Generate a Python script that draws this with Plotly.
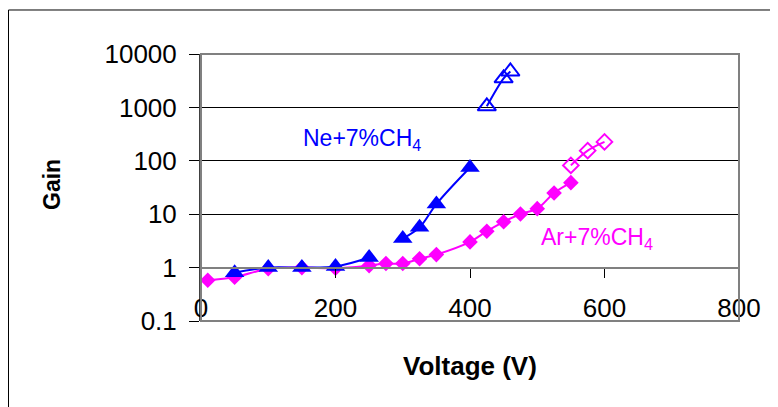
import plotly.graph_objects as go

# ---- data ----
ne_v = [50, 100, 150, 200, 250, 275, 300, 325, 350, 400]
ne_gain = [0.8, 1.0, 1.0, 1.05, 1.55, None, 3.5, 5.7, 15.5, 75]
ne_open_v = [425, 450, 460]
ne_open_gain = [1050, 3500, 4700]

ar_v = [10, 50, 100, 150, 200, 250, 275, 300, 325, 350, 400, 425, 450, 475, 500, 525, 550]
ar_gain = [0.58, 0.66, 0.95, 1.0, 0.97, 1.09, 1.19, 1.19, 1.46, 1.75, 3.03, 4.8, 7.2, 10.1, 12.7, 25, 39]
ar_open_v = [550, 575, 600]
ar_open_gain = [82, 155, 226]

x_ticks = [0, 200, 400, 600, 800]
y_ticks = [0.1, 1, 10, 100, 1000, 10000]
y_tick_labels = ["0.1", "1", "10", "100", "1000", "10000"]

BLUE = "#0000FF"
MAGENTA = "#FF00FF"
FONT = "Liberation Sans, Arial, sans-serif"

fig = go.Figure()

fig.add_trace(go.Scatter(x=ar_v, y=ar_gain, mode="lines+markers",
                         line=dict(color=MAGENTA, width=2, shape="spline"),
                         marker=dict(symbol="diamond", size=12, color=MAGENTA),
                         connectgaps=False, showlegend=False))
fig.add_trace(go.Scatter(x=ar_open_v, y=ar_open_gain, mode="lines+markers",
                         line=dict(color=MAGENTA, width=2, shape="spline"),
                         marker=dict(symbol="diamond-open", size=12, color=MAGENTA,
                                     line=dict(width=2)),
                         showlegend=False))
fig.add_trace(go.Scatter(x=ne_v, y=ne_gain, mode="lines+markers",
                         line=dict(color=BLUE, width=2, shape="spline"),
                         marker=dict(symbol="triangle-up", size=17, color=BLUE),
                         connectgaps=False, showlegend=False))
fig.add_trace(go.Scatter(x=ne_open_v, y=ne_open_gain, mode="lines+markers",
                         line=dict(color=BLUE, width=2, shape="spline"),
                         marker=dict(symbol="triangle-up-open", size=16, color=BLUE,
                                     line=dict(width=2)),
                         showlegend=False))

fig.update_layout(
    width=770, height=399,
    margin=dict(l=193, r=39, t=46, b=86),
    paper_bgcolor="white", plot_bgcolor="white",
    font=dict(family=FONT, color="black", size=25),
    xaxis=dict(range=[0, 800], tickvals=x_ticks, anchor="free", position=0.2,
               ticks="outside", ticklen=9, tickwidth=1, tickcolor="black",
               showline=True, linecolor="#808080", linewidth=2,
               showgrid=False, zeroline=False, ticklabelstandoff=8,
               tickfont=dict(size=26)),
    yaxis=dict(type="log", range=[-1, 4], tickvals=y_ticks, ticktext=y_tick_labels,
               ticks="outside", ticklen=10, tickwidth=1, tickcolor="black",
               showline=True, linecolor="#404040", linewidth=2,
               showgrid=True, gridcolor="black", gridwidth=1, zeroline=False,
               ticklabelstandoff=7, tickfont=dict(size=26)),
    shapes=[
        dict(type="rect", xref="paper", yref="paper", x0=0, x1=1, y0=0, y1=1,
             line=dict(color="#808080", width=2), layer="above"),
        dict(type="rect", xref="paper", yref="paper", x0=-0.3578, x1=1.2,
             y0=-0.5, y1=1.1648, line=dict(color="black", width=1)),
    ],
    annotations=[
        dict(text="Ne+7%CH<sub>4</sub>", x=148, y=2.4, xref="x", yref="y",
             xanchor="left", yanchor="middle", showarrow=False,
             font=dict(size=23, color=BLUE)),
        dict(text="Ar+7%CH<sub>4</sub>", x=503, y=0.54, xref="x", yref="y",
             xanchor="left", yanchor="middle", showarrow=False,
             font=dict(size=23, color=MAGENTA)),
        dict(text="<b>Gain</b>", x=-0.277, y=0.513, xref="paper", yref="paper",
             textangle=-90, xanchor="center", yanchor="middle", showarrow=False,
             font=dict(size=23)),
        dict(text="<b>Voltage (V)</b>", x=0.5, y=-0.169, xref="paper", yref="paper",
             xanchor="center", yanchor="middle", showarrow=False,
             font=dict(size=26)),
    ],
)

fig.write_html("out.html")
